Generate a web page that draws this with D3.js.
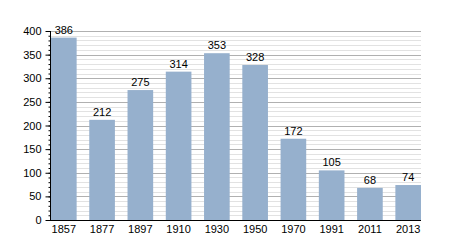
<!DOCTYPE html>
<html>
<head>
<meta charset="utf-8">
<script src="https://cdn.jsdelivr.net/npm/d3@7"></script>
<style>
  body { margin: 0; background: #fff; }
  text { font-family: "Liberation Sans", Arial, sans-serif; font-size: 11px; fill: #000; }
</style>
</head>
<body>
<div id="chart"></div>
<script>
var years = ['1857', '1877', '1897', '1910', '1930', '1950', '1970', '1991', '2011', '2013'];
var population = [386, 212, 275, 314, 353, 328, 172, 105, 68, 74];
var yTicks = [0, 50, 100, 150, 200, 250, 300, 350, 400];

var width = 450, height = 250;
var plotLeft = 50, plotRight = 421, plotTop = 31, plotBottom = 220;

var svg = d3.select('#chart').append('svg')
  .attr('width', width)
  .attr('height', height);

var x = d3.scaleBand()
  .domain(years)
  .range([plotLeft + 1, plotRight])
  .paddingInner(0.33)
  .paddingOuter(0);

var y = d3.scaleLinear()
  .domain([0, 400])
  .range([plotBottom, plotTop]);

// minor grid every 10
var minor = d3.range(10, 401, 10).filter(function(v) { return v % 50 !== 0; });
svg.selectAll('.minor')
  .data(minor)
  .enter().append('line')
  .attr('x1', plotLeft).attr('x2', plotRight)
  .attr('y1', function(d) { return Math.round(y(d)) + 0.5; })
  .attr('y2', function(d) { return Math.round(y(d)) + 0.5; })
  .attr('stroke', '#e2e2e2');

svg.selectAll('.major')
  .data(yTicks.slice(1))
  .enter().append('line')
  .attr('x1', plotLeft).attr('x2', plotRight)
  .attr('y1', function(d) { return Math.round(y(d)) + 0.5; })
  .attr('y2', function(d) { return Math.round(y(d)) + 0.5; })
  .attr('stroke', '#b0b0b0');

// bars
svg.selectAll('.bar')
  .data(population)
  .enter().append('rect')
  .attr('x', function(d, i) { return x(years[i]); })
  .attr('y', function(d) { return y(d); })
  .attr('width', x.bandwidth())
  .attr('height', function(d) { return plotBottom - y(d); })
  .attr('fill', '#96b0cd');

svg.selectAll('.val')
  .data(population)
  .enter().append('text')
  .attr('x', function(d, i) { return x(years[i]) + x.bandwidth() / 2; })
  .attr('y', function(d) { return y(d) - 4; })
  .attr('text-anchor', 'middle')
  .text(function(d) { return d; });

// y axis with minor ticks
var yAxisMinor = d3.axisLeft(y).tickValues(d3.range(0, 401, 10)).tickSize(2).tickFormat('');
svg.append('g')
  .attr('transform', 'translate(' + (plotLeft + 0.5) + ',0)')
  .call(yAxisMinor)
  .call(function(g) { g.select('.domain').remove(); });

var yAxis = d3.axisLeft(y).tickValues(yTicks).tickSize(5).tickPadding(4);
svg.append('g')
  .attr('transform', 'translate(' + (plotLeft + 0.5) + ',0)')
  .call(yAxis)
  .call(function(g) { g.select('.domain').attr('d', 'M0,' + plotTop + 'V' + plotBottom); });

var xAxis = d3.axisBottom(x).tickSize(0).tickPadding(5);
svg.append('g')
  .attr('transform', 'translate(0,' + (plotBottom + 0.5) + ')')
  .call(xAxis)
  .call(function(g) { g.select('.domain').attr('d', 'M' + plotLeft + ',0H' + plotRight); });

svg.selectAll('.tick text').style('font-family', '"Liberation Sans", Arial, sans-serif').style('font-size', '11px').attr('fill', '#000');
svg.selectAll('.domain, .tick line').attr('stroke', '#000');
</script>
</body>
</html>
